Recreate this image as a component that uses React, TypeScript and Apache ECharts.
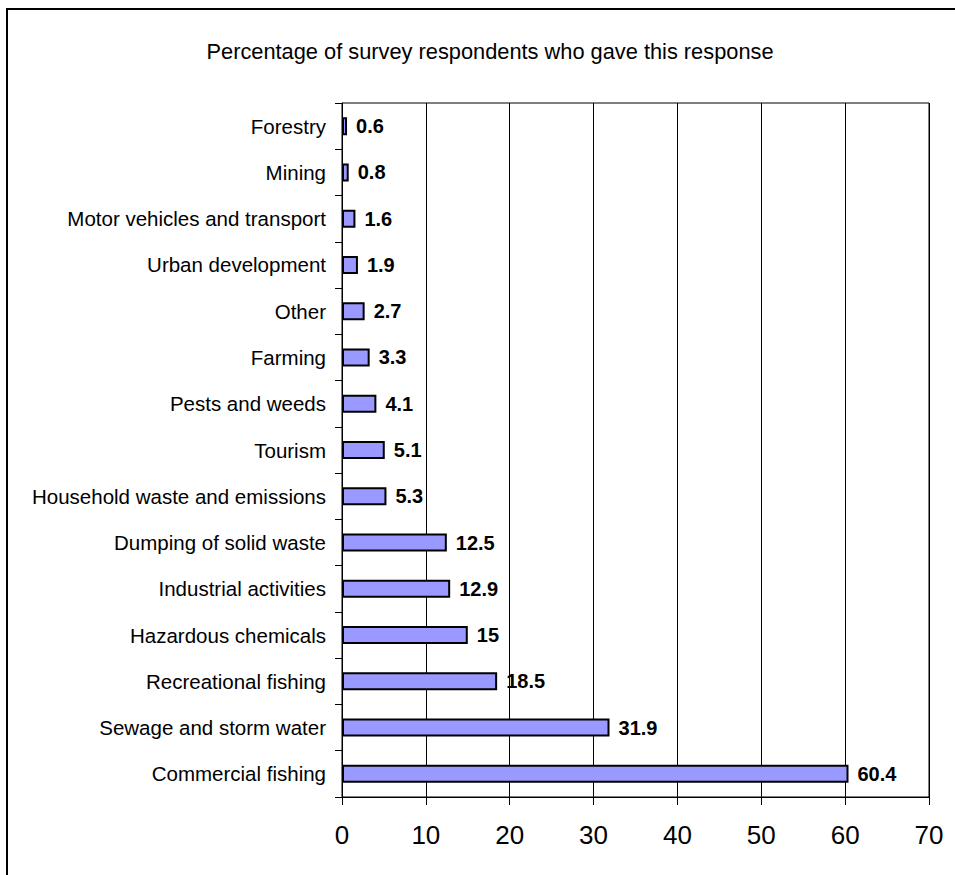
import React, { useEffect, useRef } from "react";
import * as echarts from "echarts";

const categories: string[] = [
  "Forestry",
  "Mining",
  "Motor vehicles and transport",
  "Urban development",
  "Other",
  "Farming",
  "Pests and weeds",
  "Tourism",
  "Household waste and emissions",
  "Dumping of solid waste",
  "Industrial activities",
  "Hazardous chemicals",
  "Recreational fishing",
  "Sewage and storm water",
  "Commercial fishing",
];

const values: number[] = [0.6, 0.8, 1.6, 1.9, 2.7, 3.3, 4.1, 5.1, 5.3, 12.5, 12.9, 15, 18.5, 31.9, 60.4];

const titleText = "Percentage of survey respondents who gave this response";

const FONT = "'Liberation Sans', Arial, Helvetica, sans-serif";

export default function App() {
  const ref = useRef<HTMLDivElement>(null);
  useEffect(() => {
    if (!ref.current) return;
    const chart = echarts.init(ref.current, null, { renderer: "svg" });
    chart.setOption({
      animation: false,
      backgroundColor: "#fff",
      title: {
        text: titleText,
        left: 485,
        textAlign: "center",
        top: 35,
        textStyle: { fontFamily: FONT, fontSize: 21.8, fontWeight: "normal", color: "#000" },
      },
      graphic: [
        {
          type: "rect",
          shape: { x: 7, y: 9, width: 1100, height: 1100 },
          style: { fill: "none", stroke: "#000", lineWidth: 2 },
          silent: true,
        },
      ],
      grid: {
        left: 342,
        right: 955 - 929,
        top: 103,
        bottom: 875 - 797,
        show: true,
        borderColor: "#000",
        borderWidth: 1,
        containLabel: false,
      },
      xAxis: {
        type: "value",
        min: 0,
        max: 70,
        interval: 10,
        axisLine: { show: true, lineStyle: { color: "#000", width: 1 } },
        axisTick: { show: true, length: 8, lineStyle: { color: "#000" } },
        axisLabel: { fontFamily: FONT, fontSize: 26, color: "#000", margin: 25 },
        splitLine: { show: true, lineStyle: { color: "#000", width: 1 } },
      },
      yAxis: {
        type: "category",
        data: categories,
        inverse: true,
        axisLine: { show: true, lineStyle: { color: "#000", width: 1 } },
        axisTick: { show: true, length: 7, lineStyle: { color: "#000" } },
        axisLabel: { fontFamily: FONT, fontSize: 20.5, color: "#000", margin: 16 },
        splitLine: { show: false },
      },
      series: [
        {
          type: "bar",
          data: values,
          barWidth: 18,
          itemStyle: { color: "#9999FF", borderColor: "#000", borderWidth: 2 },
          label: {
            show: true,
            position: "right",
            distance: 9,
            fontFamily: FONT,
            fontSize: 20,
            fontWeight: "bold",
            color: "#000",
          },
        },
      ],
    });
    return () => chart.dispose();
  }, []);
  return (
    <div
      ref={ref}
      style={{ position: "absolute", left: 0, top: 0, width: 955, height: 875 }}
    />
  );
}
